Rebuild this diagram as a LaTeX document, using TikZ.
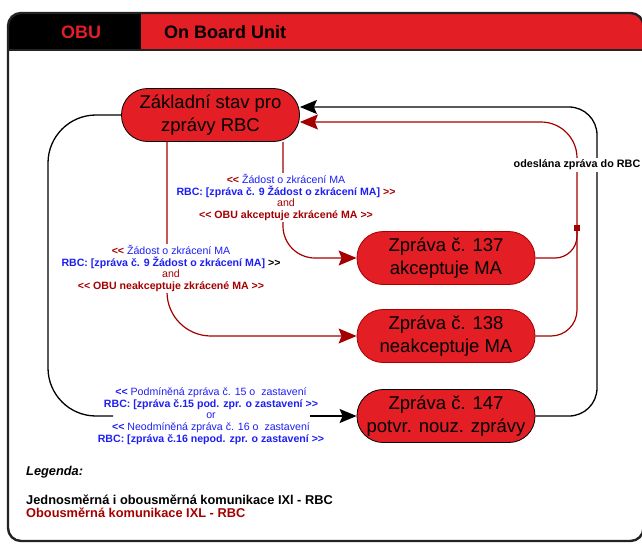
\documentclass[tikz,border=0pt]{standalone}
\usepackage{fontspec}
\setmainfont{Liberation Sans}
\usetikzlibrary{arrows.meta}
\definecolor{nodered}{RGB}{227,30,36}
\definecolor{dred}{RGB}{165,0,0}
\definecolor{blu}{RGB}{30,30,245}
\definecolor{framec}{RGB}{35,35,35}
% guillemet-free double angle brackets
\newcommand\LLq{<\kern0pt<}
\newcommand\RRq{>\kern0pt>}

\begin{document}
\begin{tikzpicture}[x=1pt,y=-1pt,
  state/.style={draw=black, line width=0.8pt, fill=nodered, rounded corners=26pt,
    minimum width=178pt, minimum height=53pt, align=center, inner sep=0pt,
    font=\fontsize{18.5}{22.5}\selectfont},
  accstate/.style={state, draw=dred},
  blk/.style={draw=black, line width=1.3pt},
  rln/.style={draw=dred, line width=1.2pt},
  btip/.style={-{Stealth[length=17pt,width=14pt,inset=3pt]}},
  rtip/.style={-{Stealth[length=18pt,width=15pt,inset=3pt]}},
  lbl/.style={fill=white, align=center, inner sep=2pt,
    font=\fontsize{10.6}{11.4}\selectfont},
  legend/.style={anchor=west, inner sep=0pt, font=\fontsize{12.8}{15}\selectfont\bfseries},
  frame/.style={draw=framec, line width=2.4pt}
]
\useasboundingbox (0,0) rectangle (642,544);
\clip (0,0) rectangle (642,544);

% header bar
\fill[black] (8,50) [rounded corners=13pt] -- (8,13) [sharp corners] -- (141,13) -- (141,50) -- cycle;
\fill[nodered] (141,13) [rounded corners=13pt] -- (643.5,13) [sharp corners] -- (643.5,50) -- (141,50) -- cycle;
\draw[frame] (8,50) -- (643.5,50);
\draw[frame, rounded corners=13pt] (8,13) rectangle (643.5,541);
\node[font=\fontsize{18}{20}\selectfont\bfseries, text=nodered] (obu) at (81,32) {OBU};
\node[anchor=west, inner sep=0pt, font=\fontsize{18}{20}\selectfont\bfseries] (title) at (164,32) {On Board Unit};

% states
\node[state] (base) at (210.5,115) {Základní stav pro\\zprávy RBC};
\node[accstate] (acc) at (446,258) {Zpráva č. 137\\akceptuje MA};
\node[accstate] (rej) at (446,336) {Zpráva č. 138\\neakceptuje MA};
\node[state] (conf) at (446,416) {Zpráva č. 147\\potvr. nouz. zprávy};

% routing points
\coordinate (J) at (577,228);
\coordinate (rcol) at (597,107);
\coordinate (lcol) at (48,416);
\coordinate (gapL) at (113,416);
\coordinate (gapR) at (310,416);
\coordinate (accOut) at ([xshift=72.5pt]base.south);
\coordinate (rejOut) at ([xshift=-43.5pt]base.south);

% one-way / two-way (black)
\draw[blk] (base.west) [rounded corners=48pt] -| (lcol) -- (gapL);
\draw[blk,btip] (gapR) -- (conf.west);
\draw[blk,btip] (conf.east) [rounded corners=28pt] -| (rcol) [rounded corners=55pt] -- ([yshift=8pt]base.east);

% two-way (dark red)
\draw[rln,rtip] (rej.east) [rounded corners=26pt] -| (J) [rounded corners=36pt] |- ([yshift=-7pt]base.east);
\draw[rln] (acc.east) [rounded corners=22pt] -| (J);
\node[fill=dred, minimum size=5.5pt, inner sep=0pt] (jm) at (J) {};
\draw[rln,rtip] (accOut) [rounded corners=32pt] |- (acc.west);
\draw[rln,rtip] (rejOut) [rounded corners=44pt] |- (rej.west);

% connector labels
\node[lbl] (accLbl) at (286,197.5) {%
  \textcolor{dred}{\bfseries\LLq} \textcolor{blu}{Žádost o zkrácení MA}\\
  \textcolor{blu}{\bfseries RBC: [zpráva č. 9 Žádost o zkrácení MA]} \textcolor{dred}{\bfseries\RRq}\\
  \textcolor{dred}{and}\\
  \textcolor{dred}{\bfseries\LLq{} OBU akceptuje zkrácené MA \RRq}};
\node[lbl] (rejLbl) at (171,268.5) {%
  \textcolor{dred}{\bfseries\LLq} \textcolor{blu}{Žádost o zkrácení MA}\\
  \textcolor{blu}{\bfseries RBC: [zpráva č. 9 Žádost o zkrácení MA]} {\bfseries\RRq}\\
  \textcolor{dred}{and}\\
  \textcolor{dred}{\bfseries\LLq{} OBU neakceptuje zkrácené MA \RRq}};
\node[align=center, inner sep=0pt, font=\fontsize{10.6}{11.8}\selectfont, text=blu] (confLbl) at (211,416) {%
  {\bfseries\LLq} Podmíněná zpráva č. 15 o\ \ zastavení\\
  {\bfseries RBC: [zpráva č.15 pod. zpr. o zastavení \RRq}\\
  or\\
  {\bfseries\LLq} Neodmíněná zpráva č. 16 o\ \ zastavení\\
  {\bfseries RBC: [zpráva č.16 nepod. zpr. o zastavení \RRq}};
\node[lbl, inner sep=1.5pt, font=\fontsize{10.8}{12}\selectfont\bfseries] (sentLbl) at (577,165) {odeslána zpráva do RBC};

% legend
\node[legend, font=\fontsize{12.8}{15}\selectfont\bfseries\itshape] (leg) at (26,472) {Legenda:};
\node[legend] (leg1) at (26,500) {Jednosměrná i obousměrná komunikace IXl - RBC};
\node[legend, text=dred] (leg2) at (26,513) {Obousměrná komunikace IXL - RBC};
\end{tikzpicture}
\end{document}
